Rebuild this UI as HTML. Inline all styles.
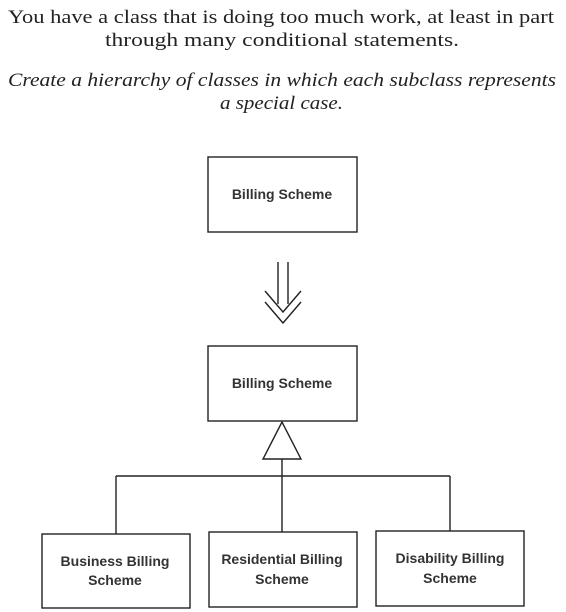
<!DOCTYPE html>
<html><head><style>
html,body{margin:0;padding:0;background:#fff;}
svg{display:block;}
</style></head><body>
<svg width="566" height="612" viewBox="0 0 566 612" xmlns="http://www.w3.org/2000/svg">
<g font-family="Liberation Serif, serif" font-size="19" fill="#222">
<text x="8" y="23" textLength="546" lengthAdjust="spacingAndGlyphs">You have a class that is doing too much work, at least in part</text>
<text x="105" y="46" textLength="354" lengthAdjust="spacingAndGlyphs">through many conditional statements.</text>
<text x="8" y="86" font-style="italic" textLength="548" lengthAdjust="spacingAndGlyphs">Create a hierarchy of classes in which each subclass represents</text>
<text x="220" y="109" font-style="italic" textLength="123" lengthAdjust="spacingAndGlyphs">a special case.</text>
</g>
<g fill="none" stroke="#222" stroke-width="1.4">
<rect x="208" y="157" width="149" height="75"/>
<rect x="208" y="346" width="149" height="75"/>
<line x1="278" y1="262" x2="278" y2="304"/>
<line x1="288" y1="262" x2="288" y2="304"/>
<polyline points="265,291 283,312 301,291"/>
<polyline points="265,302 283,323 301,302"/>
<polygon points="282,422 263,459 301,459"/>
<line x1="282" y1="459" x2="282" y2="532"/>
<line x1="116" y1="476" x2="450" y2="476"/>
<line x1="116" y1="476" x2="116" y2="534"/>
<line x1="450" y1="476" x2="450" y2="531"/>
<rect x="42" y="534" width="148" height="74"/>
<rect x="209" y="532" width="148" height="75"/>
<rect x="376" y="531" width="148" height="75"/>
</g>
<g font-family="Liberation Sans, sans-serif" font-size="14" font-weight="bold" fill="#333" text-anchor="middle">
<text x="282" y="199">Billing Scheme</text>
<text x="282" y="388">Billing Scheme</text>
<text x="115" y="566">Business Billing</text>
<text x="115" y="585">Scheme</text>
<text x="282" y="564">Residential Billing</text>
<text x="282" y="584">Scheme</text>
<text x="450" y="563">Disability Billing</text>
<text x="450" y="583">Scheme</text>
</g>
</svg>
</body></html>
